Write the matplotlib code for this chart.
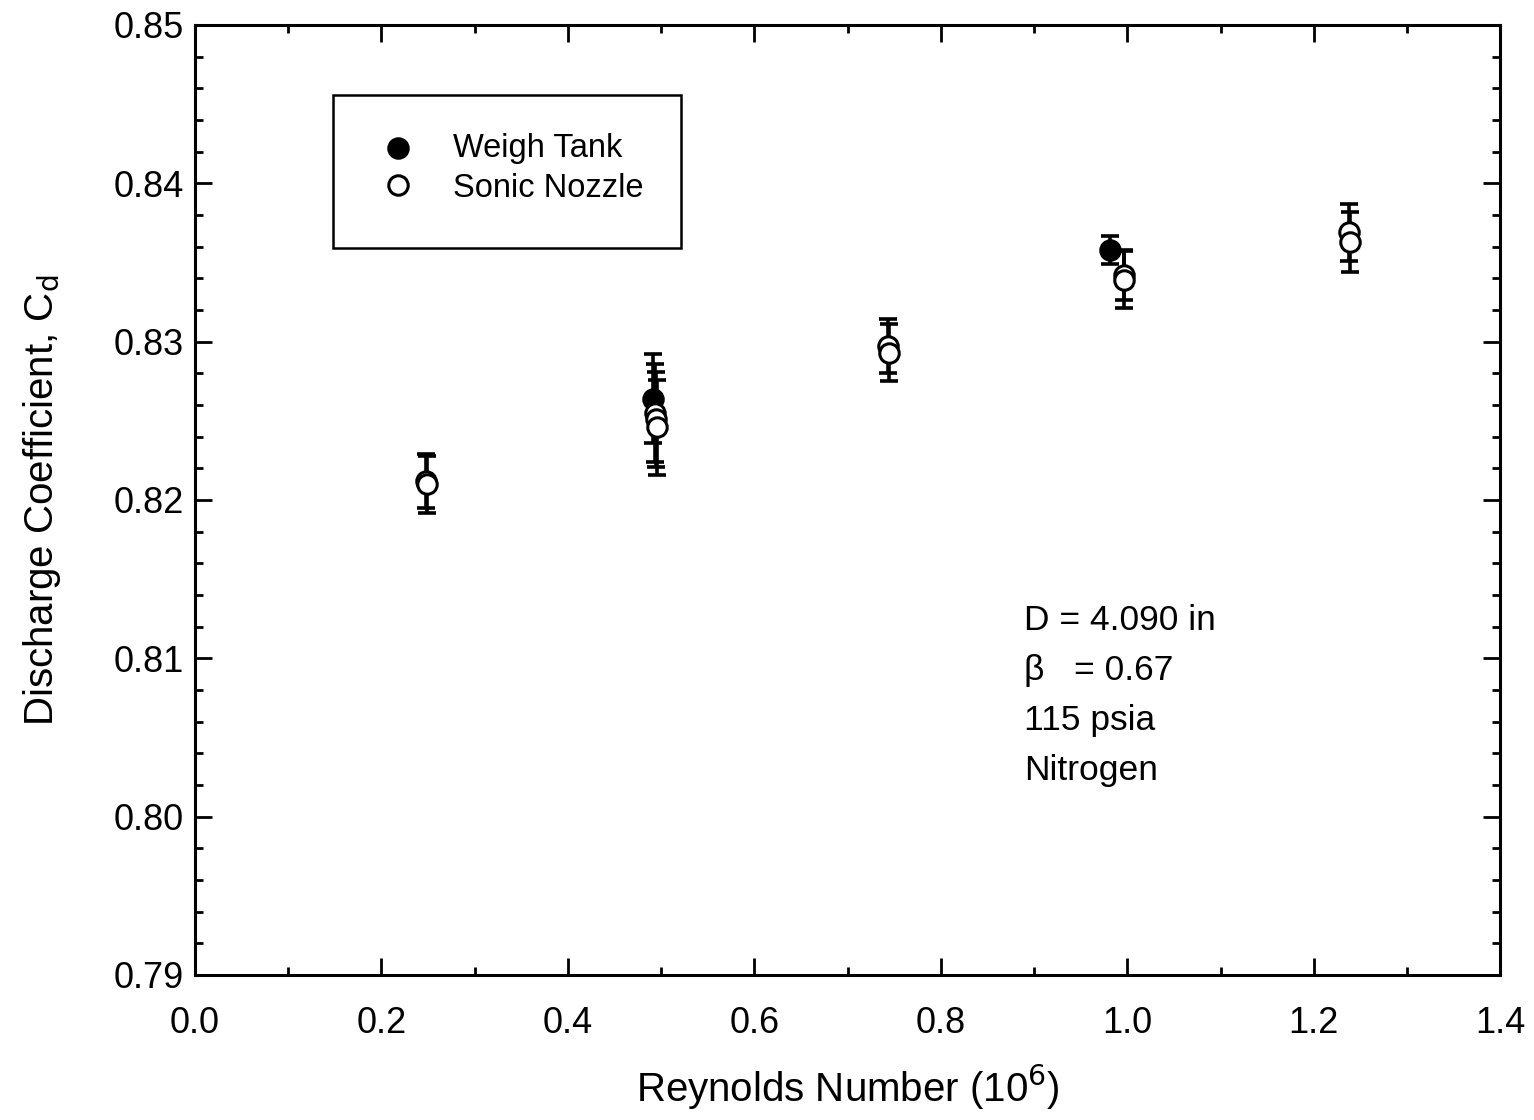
import matplotlib
matplotlib.use("Agg")
import matplotlib.pyplot as plt
from matplotlib.ticker import MultipleLocator, FormatStrFormatter
from matplotlib.patches import Rectangle

plt.rcParams['font.family'] = ['Liberation Sans', 'DejaVu Sans']

# Weigh Tank (filled)
wt_re = [0.491, 0.981]
wt_cd = [0.8264, 0.8358]
wt_err = [0.0028, 0.0009]

# Sonic Nozzle (open)
sn_re = [0.248, 0.249, 0.494, 0.495, 0.496, 0.7436, 0.7445, 0.996, 0.997, 1.2375, 1.2385]
sn_cd = [0.8212, 0.8210, 0.8255, 0.8251, 0.8246, 0.8297, 0.8293, 0.8342, 0.8339, 0.8369, 0.8363]
sn_err = [0.0017, 0.0018, 0.0031, 0.0030, 0.0030, 0.0017, 0.0018, 0.0016, 0.0018, 0.0018, 0.0019]

fig = plt.figure(figsize=(15.34, 11.2), dpi=100)
ax = fig.add_axes([0.127, 0.1295, 0.851, 0.8482])

ekw = dict(fmt='none', ecolor='black', elinewidth=2.6, capsize=6.5, capthick=2.6, zorder=2)
ax.errorbar(wt_re, wt_cd, yerr=wt_err, **ekw)
ax.errorbar(sn_re, sn_cd, yerr=sn_err, **ekw)
ax.plot(wt_re, wt_cd, 'o', ms=14, mfc='black', mec='black', mew=2.2, zorder=3)
ax.plot(sn_re, sn_cd, 'o', ms=14, mfc='white', mec='black', mew=2.2, zorder=4)

ax.set_xlim(0.0, 1.4)
ax.set_ylim(0.79, 0.85)
ax.xaxis.set_major_locator(MultipleLocator(0.2))
ax.xaxis.set_minor_locator(MultipleLocator(0.1))
ax.yaxis.set_major_locator(MultipleLocator(0.01))
ax.yaxis.set_minor_locator(MultipleLocator(0.002))
ax.xaxis.set_major_formatter(FormatStrFormatter('%.1f'))
ax.yaxis.set_major_formatter(FormatStrFormatter('%.2f'))
ax.tick_params(which='both', direction='in', top=True, right=True, width=2)
ax.tick_params(which='major', length=12, labelsize=26)
ax.tick_params(axis='x', which='major', pad=22)
ax.tick_params(axis='y', which='major', pad=8)
ax.tick_params(which='minor', length=6)
for s in ax.spines.values():
    s.set_linewidth(2.2)

ax.set_xlabel('Reynolds Number (10$^{6}$)', fontsize=29, labelpad=16)
ax.set_ylabel('Discharge Coefficient, C$_{\\mathrm{d}}$', fontsize=29, labelpad=36)

# legend box
ax.add_patch(Rectangle((0.1057, 0.765), 0.2665, 0.161, transform=ax.transAxes,
                       fill=False, lw=1.8, ec='black', zorder=5))
lx = (398 - 195) / 1305
tx = (453 - 195) / 1305
ax.plot([lx], [1 - (148 - 25) / 950], 'o', ms=14, mfc='black', mec='black', mew=2.2,
        transform=ax.transAxes, zorder=6)
ax.plot([lx], [1 - (185 - 25) / 950], 'o', ms=14, mfc='white', mec='black', mew=2.2,
        transform=ax.transAxes, zorder=6)
ax.text(tx, 1 - (149 - 25) / 950, 'Weigh Tank', transform=ax.transAxes,
        fontsize=23.5, va='center', ha='left')
ax.text(tx, 1 - (189 - 25) / 950, 'Sonic Nozzle', transform=ax.transAxes,
        fontsize=23.5, va='center', ha='left')

# annotation
ann_x = (1024 - 195) / 1305
for yp, s in zip([621, 671, 721, 771], ['D = 4.090 in', 'β   = 0.67', '115 psia', 'Nitrogen']):
    ax.text(ann_x, 1 - (yp - 25) / 950, s, transform=ax.transAxes,
            fontsize=25.5, va='center', ha='left')

fig.savefig('out.png', dpi=100)
